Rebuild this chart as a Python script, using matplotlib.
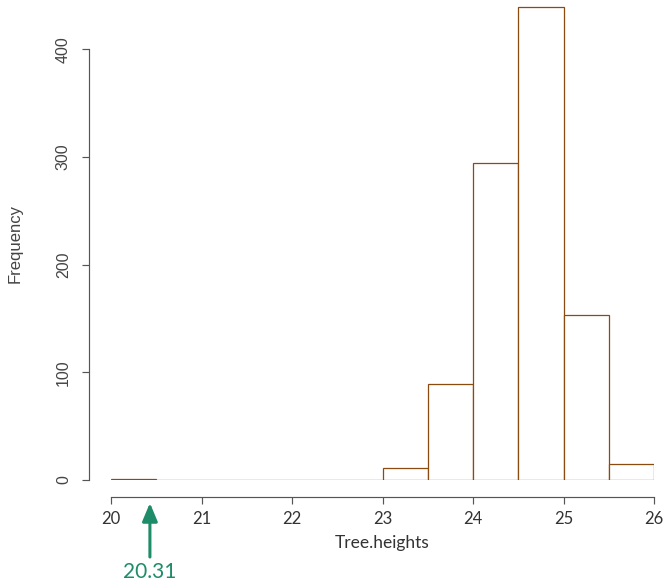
import matplotlib
matplotlib.use("Agg")
import matplotlib.pyplot as plt
from matplotlib.patches import FancyArrowPatch

# Data
bin_edges = [20.0, 20.5, 21.0, 21.5, 22.0, 22.5, 23.0, 23.5, 24.0, 24.5, 25.0, 25.5, 26.0]
counts = [1, 0, 0, 0, 0, 0, 11, 89, 294, 439, 153, 15]
x_ticks = [20, 21, 22, 23, 24, 25, 26]
y_ticks = [0, 100, 200, 300, 400]
marker_value = 20.31
marker_label = "20.31"
marker_x = 20.43

edge_color = "#8B4A0E"
axis_color = "#555555"
text_color = "#333333"
green = "#1E8C69"

fig = plt.figure(figsize=(6.65, 5.86), dpi=100)
W, H = 665, 586
PT = 72 / 100  # points per pixel
left_px, right_px = 111, 654
bottom_px = 480
ymax = 440
px_per_unit = (479 - 48.3) / 400
top_px = bottom_px - ymax * px_per_unit
ax_h_px = bottom_px - top_px
ax = fig.add_axes([left_px / W, (H - bottom_px) / H, (right_px - left_px) / W, ax_h_px / H])

lefts = bin_edges[:-1]
widths = [b - a for a, b in zip(bin_edges[:-1], bin_edges[1:])]
ax.bar(lefts, counts, width=widths, align="edge", facecolor="white",
       edgecolor=edge_color, linewidth=0.9)

ax.set_xlim(20, 26)
ax.set_ylim(0, ymax)

for s in ["top", "right"]:
    ax.spines[s].set_visible(False)
ax.spines["left"].set_position(("outward", 22 * PT))
ax.spines["bottom"].set_position(("outward", 17 * PT))
ax.spines["left"].set_bounds(0, 400)
ax.spines["bottom"].set_bounds(20, 26)
for s in ["left", "bottom"]:
    ax.spines[s].set_color(axis_color)
    ax.spines[s].set_linewidth(0.85)

ax.set_xticks(x_ticks)
ax.set_xticklabels([str(t) for t in x_ticks], fontfamily="Lato", fontsize=12, color=text_color)
ax.set_yticks(y_ticks)
ax.set_yticklabels([str(t) for t in y_ticks], fontfamily="Liberation Sans", fontsize=11.5,
                   color="#444444", rotation=90, va="center")
ax.tick_params(axis="both", length=7 * PT, width=0.85, color=axis_color)
ax.tick_params(axis="x", pad=5)
ax.tick_params(axis="y", pad=8)

ax.set_xlabel("Tree.heights", fontfamily="Lato", fontsize=12.5, color=text_color, labelpad=6)
ax.set_ylabel("Frequency", fontfamily="Liberation Sans", fontsize=12, color="#444444", labelpad=24)

# Arrow annotation
trans = ax.get_xaxis_transform()
arrow = FancyArrowPatch((marker_x, -(557 - bottom_px) / ax_h_px), (marker_x, -(503 - bottom_px) / ax_h_px),
                        transform=trans, arrowstyle="-|>,head_length=11,head_width=4.6",
                        color=green, linewidth=2.2, clip_on=False, mutation_scale=1,
                        shrinkA=0, shrinkB=0)
ax.add_patch(arrow)
ax.text(marker_x, -(572 - bottom_px) / ax_h_px, marker_label, transform=trans, ha="center", va="center",
        fontfamily="Lato", fontsize=15, color=green, clip_on=False)

fig.savefig("out.png", dpi=100, facecolor="white")
